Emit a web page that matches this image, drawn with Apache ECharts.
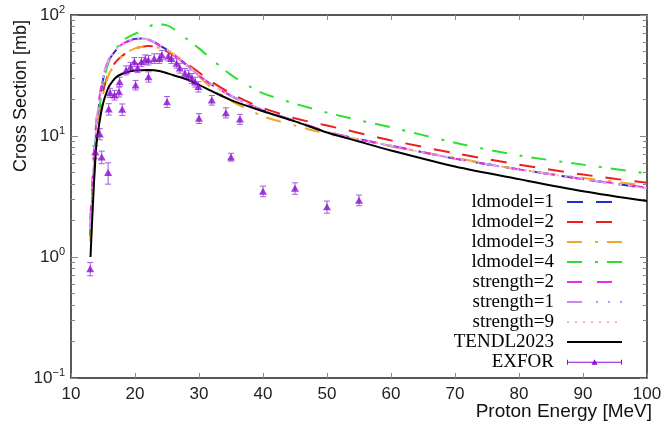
<!DOCTYPE html>
<html><head><meta charset="utf-8">
<script src="https://cdn.jsdelivr.net/npm/echarts@6/dist/echarts.min.js"></script>
<style>html,body{margin:0;padding:0;background:#fff}#c{width:672px;height:426px}</style>
</head><body><div id="c"></div>
<script>
// ---- data ----
const energy = [13, 13.5, 14, 14.5, 15, 15.5, 16, 17, 18, 19, 20, 21, 22, 23, 24, 25, 26, 28, 30, 32, 35, 38, 40, 45, 50, 55, 60, 70, 80, 90, 100];
const ldmodel1 = [1.5, 4.5, 12, 20, 29, 37, 43, 51, 57, 61, 63.5, 64, 63, 60, 55.5, 51.5, 47.5, 39, 31.5, 26.5, 21.5, 18, 16.3, 13.3, 10.8, 9.4, 8.3, 6.5, 5.3, 4.4, 3.7];
const ldmodel2 = [1.5, 4, 10, 16, 23, 29, 34, 41, 46, 50, 53, 54.5, 55.5, 55, 53, 50, 46.5, 40, 33.5, 28, 22.5, 18.8, 17, 14, 12.2, 10.6, 9.2, 7.2, 5.8, 4.8, 4.1];
const ldmodel3 = [1.35, 3.8, 9.5, 15.5, 22, 28, 33, 40, 46, 50, 53, 54.5, 55, 54.5, 53, 51, 47.5, 40, 31, 25, 19.5, 16.3, 14.5, 12.2, 10.4, 9.3, 8.2, 6.6, 5.3, 4.5, 3.9];
const ldmodel4 = [1.6, 4.5, 11, 18, 26, 35, 42, 52, 61, 66, 70, 74, 79, 83.5, 84, 82, 77, 64, 53, 43, 32, 25.5, 22.5, 18.5, 15.6, 13.5, 11.8, 8.8, 6.9, 5.8, 4.9];
const strength2 = [2.0, 6, 14, 22, 31, 38, 44, 52, 57.5, 61, 63, 63.5, 62.5, 59.5, 55, 51, 47, 38.5, 31.5, 26.5, 21.5, 18, 16.3, 13.3, 10.9, 9.4, 8.3, 6.5, 5.3, 4.4, 3.75];
const strength1 = [1.7, 5, 13, 21, 30, 37.5, 43.5, 51.5, 57.5, 61.5, 63.5, 64, 63, 60, 56, 52, 47.5, 39, 31.5, 26.5, 21.5, 18, 16.3, 13.3, 10.8, 9.4, 8.3, 6.5, 5.3, 4.4, 3.7];
const strength9 = [1.7, 5, 13, 21, 30, 37.5, 43.5, 51.5, 57.5, 61.5, 63.5, 64, 63, 60, 56, 52, 47.5, 39, 31.5, 26.5, 21.5, 18, 16.3, 13.3, 10.8, 9.4, 8.3, 6.5, 5.3, 4.4, 3.7];
const tendlE = [13.05, 13.9, 14.5, 15, 15.5, 16, 17, 18, 19, 20, 21, 22, 23, 24, 26, 28, 30, 32, 35, 40, 45, 50, 55, 60, 70, 80, 90, 100];
const tendl = [1.0, 7.7, 13.5, 18.5, 22.5, 26, 30.5, 32.7, 34, 34.7, 35, 35.1, 35, 34.3, 31.8, 29.5, 26.5, 23.5, 19.8, 16, 13.2, 10.7, 9.0, 7.6, 5.6, 4.4, 3.5, 2.9];
const exforE   = [13.0, 13.8, 14.5, 14.8, 15.8, 15.9, 16.1, 16.8, 17.5, 17.6, 18.0, 18.6, 19.3, 19.9, 20.1, 20.4, 21.0, 21.6, 22.1, 22.1, 23.0, 23.8, 24.2, 25.0, 25.2, 25.7, 26.5, 27.0, 27.8, 28.4, 28.9, 29.4, 29.9, 30.0, 32.0, 34.2, 35.0, 36.4, 40, 45, 50, 55];
const exforXS  = [0.80, 7.4, 10.4, 6.7, 5.0, 16.7, 22.8, 21.8, 23.2, 28.1, 16.6, 35.0, 37.4, 41.0, 26.4, 36.6, 41.0, 43.0, 42.4, 30.9, 43.8, 43.8, 46.8, 19.2, 45.9, 43.8, 40.0, 36.5, 33.0, 32.0, 30.0, 28.0, 25.6, 14.0, 19.8, 15.6, 6.7, 13.8, 3.5, 3.7, 2.6, 2.95];
const exforErr = [0.10, 0.9, 1.1, 0.8, 1.0, 1.8, 2.0, 2.0, 2.2, 2.5, 1.8, 3.0, 3.2, 3.5, 2.4, 3.2, 3.6, 3.8, 3.8, 3.0, 4.0, 4.0, 4.2, 2.0, 4.2, 4.0, 3.6, 3.4, 3.1, 3.0, 2.8, 2.6, 2.5, 1.3, 1.8, 1.5, 0.5, 1.3, 0.35, 0.4, 0.3, 0.3];
const xTicks = [10, 20, 30, 40, 50, 60, 70, 80, 90, 100];
const yMajor = [0.1, 1, 10, 100];
const yMinor = [0.2, 0.3, 0.4, 0.5, 0.6, 0.7, 0.8, 0.9, 2, 3, 4, 5, 6, 7, 8, 9, 20, 30, 40, 50, 60, 70, 80, 90];
const names = ['ldmodel=1', 'ldmodel=2', 'ldmodel=3', 'ldmodel=4', 'strength=2', 'strength=1', 'strength=9', 'TENDL2023', 'EXFOR'];

// ---- chart ----
const zip = (xs, ys) => xs.map((x, i) => [x, ys[i]]);
const chart = echarts.init(document.getElementById('c'), null, {renderer: 'canvas'});
const AX = {color: '#222', width: 1.5};
const TK = {color: '#888', width: 1};
const SANS = 'Liberation Sans, Arial, sans-serif';
function yAx(pos, minor) {
  return {
    type: 'log', logBase: 10, min: 0.1, max: 100, position: pos,
    axisLine: {show: !minor, onZero: false, lineStyle: AX},
    axisTick: {show: true, inside: true, length: minor ? 4 : 7, customValues: minor ? yMinor : yMajor, lineStyle: TK},
    axisLabel: (pos === 'left' && !minor) ? {
      show: true, customValues: yMajor, margin: 6,
      formatter: v => '{b|10}{s|' + String(Math.round(Math.log10(v))).replace('-', '\u2212') + '}',
      rich: {b: {fontSize: 17, fontFamily: SANS, color: '#222'}, s: {fontSize: 11, fontFamily: SANS, color: '#222', padding: [0, 0, 10, 0]}}
    } : {show: false},
    splitLine: {show: false}, minorTick: {show: false}
  };
}
function xAx(pos) {
  return {
    type: 'value', min: 10, max: 100, interval: 10, position: pos,
    axisLine: {show: true, onZero: false, lineStyle: AX},
    axisTick: {show: true, inside: true, length: 5, lineStyle: TK},
    axisLabel: pos === 'bottom' ? {show: true, margin: 8, fontSize: 17, fontFamily: SANS, color: '#222', customValues: xTicks} : {show: false},
    splitLine: {show: false}
  };
}
function lineS(name, xs, ys, color, type) {
  return {
    name, type: 'line', data: zip(xs, ys), xAxisIndex: 0, yAxisIndex: 0,
    symbol: 'none', showSymbol: false, smooth: 0.3, clip: true,
    lineStyle: {color, width: 2, type}, itemStyle: {color}, animation: false
  };
}
const exforColor = '#8a0fd1';
const exforData = exforE.map((e, i) => [e, exforXS[i], exforErr[i]]);
const option = {
  backgroundColor: '#fff',
  animation: false,
  grid: {left: 71, right: 25, top: 15, bottom: 48, containLabel: false},
  xAxis: [xAx('bottom'), xAx('top')],
  yAxis: [yAx('left', false), yAx('left', true), yAx('right', false), yAx('right', true)],
  legend: {
    orient: 'vertical', right: 49, top: 192, align: 'right', padding: 0,
    itemWidth: 55, itemHeight: 14, itemGap: 0, selectedMode: false,
    itemStyle: {opacity: 0},
    textStyle: {fontFamily: 'Liberation Serif, Times New Roman, serif', fontSize: 19, color: '#000', lineHeight: 20, padding: [0, 8, 0, 0]},
    data: names.slice(0, 8).concat([{name: 'EXFOR', itemStyle: {opacity: 1}, icon: 'path://M0,1.5h1v5h-1z M54,1.5h1v5h-1z M0,3.5h55v1h-55z M24.5,6.5L27.5,1.2L30.5,6.5z'}])
  },
  series: [
    lineS(names[0], energy, ldmodel1, '#1f2fd0', [16, 13]),
    lineS(names[1], energy, ldmodel2, '#e8211f', [16, 13]),
    lineS(names[2], energy, ldmodel3, '#f5a623', [15, 13, 3, 9]),
    lineS(names[3], energy, ldmodel4, '#2ee02e', [15, 13, 3, 9]),
    lineS(names[4], energy, strength2, '#e62ee6', [15, 15]),
    lineS(names[5], energy, strength1, '#c38cf5', [15, 14, 2, 10, 2, 10]),
    lineS(names[6], energy, strength9, '#ffb0c0', [2, 6]),
    lineS(names[7], tendlE, tendl, '#000000', 'solid'),
    {
      name: 'EXFOR', type: 'custom', xAxisIndex: 0, yAxisIndex: 0, data: exforData, clip: true,
      itemStyle: {color: exforColor},
      renderItem: function (params, api) {
        const x = api.value(0), y = api.value(1), e = api.value(2);
        const lo = api.coord([x, y - e]), hi = api.coord([x, y + e]);
        const st = {stroke: '#a65be0', lineWidth: 1};
        return {type: 'group', children: [
          {type: 'line', shape: {x1: lo[0], y1: lo[1], x2: hi[0], y2: hi[1]}, style: st},
          {type: 'line', shape: {x1: lo[0] - 3, y1: lo[1], x2: lo[0] + 3, y2: lo[1]}, style: st},
          {type: 'line', shape: {x1: hi[0] - 3, y1: hi[1], x2: hi[0] + 3, y2: hi[1]}, style: st}
        ]};
      }
    },
    {
      name: 'EXFOR', type: 'scatter', xAxisIndex: 0, yAxisIndex: 0, data: exforData,
      symbol: 'triangle', symbolSize: [8, 7], itemStyle: {color: exforColor}, z: 3
    }
  ],
  graphic: [
    {type: 'text', x: 21, y: 96, rotation: Math.PI / 2, style: {text: 'Cross Section [mb]', font: '18px ' + SANS, fill: '#111', align: 'center', verticalAlign: 'middle'}},
    {type: 'text', x: 652, y: 412, style: {text: 'Proton Energy [MeV]', font: '19px ' + SANS, fill: '#111', align: 'right', verticalAlign: 'middle'}}
  ]
};
chart.setOption(option);
</script>
</body></html>
